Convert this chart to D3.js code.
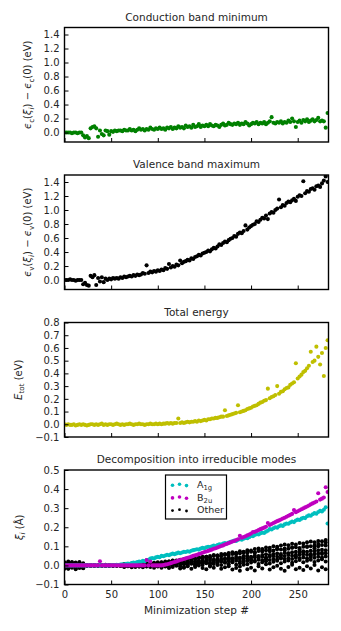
<!DOCTYPE html>
<html>
<head>
<meta charset="utf-8">
<script src="https://cdn.jsdelivr.net/npm/d3@7"></script>
<style>
  html, body { margin: 0; padding: 0; background: #fff; }
  svg { display: block; font-family: "DejaVu Sans", sans-serif; }
</style>
</head>
<body>
<div id="chart"></div>
<script>
// ── 1. Data ──────────────────────────────────────────────────
// main series are sampled every 2 minimization steps, "other" modes every 4
const STEP_MAIN  = 2;
const STEP_OTHER = 4;
const X_MAX      = 283;

const X_TICKS       = [0, 50, 100, 150, 200, 250];
const Y_TICKS_BAND  = [0, 0.2, 0.4, 0.6, 0.8, 1.0, 1.2, 1.4];
const Y_TICKS_ETOT  = [-0.1, 0, 0.1, 0.2, 0.3, 0.4, 0.5, 0.6, 0.7, 0.8];
const Y_TICKS_MODES = [-0.1, 0, 0.1, 0.2, 0.3, 0.4, 0.5];

const CBM = [
  0, 0, 0, 0, -0.01, 0, 0, -0.01, 0, 0,
  -0.04, -0.07, -0.05, -0.08, 0.06, 0.08, 0.09, 0.06, -0.06, 0.03,
  -0.02, -0.04, 0.03, 0.02, -0.03, 0.02, 0.01, 0.03, 0.02, 0.03,
  0.03, 0.02, 0.04, 0.03, 0.03, 0.05, 0.03, 0.04, 0.02, 0.04,
  0.06, 0.04, 0.05, 0.03, 0.05, 0.04, 0.07, 0.05, 0.04, 0.06,
  0.05, 0.07, 0.05, 0.06, 0.04, 0.07, 0.06, 0.08, 0.05, 0.07,
  0.06, 0.09, 0.07, 0.08, 0.06, 0.1, 0.08, 0.09, 0.07, 0.11,
  0.08, 0.09, 0.12, 0.08, 0.1, 0.09, 0.11, 0.09, 0.12, 0.1,
  0.09, 0.11, 0.1, 0.08, 0.11, 0.13, 0.1, 0.11, 0.14, 0.12,
  0.11, 0.13, 0.12, 0.14, 0.11, 0.13, 0.12, 0.15, 0.13, 0.1,
  0.12, 0.14, 0.13, 0.15, 0.12, 0.14, 0.13, 0.15, 0.12, 0.14,
  0.16, 0.22, 0.14, 0.13, 0.15, 0.14, 0.16, 0.13, 0.15, 0.14,
  0.17, 0.15, 0.2, 0.16, 0.08, 0.15, 0.17, 0.14, 0.18, 0.16,
  0.19, 0.15, 0.17, 0.19, 0.16, 0.18, 0.21, 0.16, 0.17, 0.16,
  0.07, 0.28
];

const VBM = [
  0, 0, 0, 0.01, 0, 0, -0.01, 0, 0, 0,
  -0.06, -0.04, -0.07, -0.08, 0.06, 0.04, 0.07, -0.07, 0.03, -0.02,
  0.04, -0.03, 0.02, 0, 0.02, 0.01, 0.03, 0.02, 0.03, 0.02,
  0.04, 0.03, 0.05, 0.04, 0.05, 0.06, 0.05, 0.07, 0.06, 0.08,
  0.07, 0.08, 0.1, 0.09, 0.21, 0.1, 0.12, 0.11, 0.13, 0.12,
  0.14, 0.13, 0.15, 0.14, 0.17, 0.16, 0.23, 0.18, 0.2, 0.19,
  0.22, 0.21, 0.28, 0.24, 0.26, 0.27, 0.29, 0.28, 0.31, 0.3,
  0.33, 0.34, 0.36, 0.35, 0.38, 0.39, 0.4, 0.42, 0.41, 0.44,
  0.46, 0.45, 0.48, 0.51, 0.5, 0.53, 0.55, 0.54, 0.57, 0.59,
  0.6, 0.63, 0.62, 0.66, 0.68, 0.67, 0.7, 0.78, 0.72, 0.75,
  0.77, 0.79, 0.8, 0.84, 0.83, 0.86, 0.89, 0.88, 0.92, 0.87,
  0.95, 0.97, 0.96, 1.0, 1.02, 1.15, 1.04, 1.07, 1.06, 1.1,
  1.12, 1.11, 1.14, 1.16, 1.13, 1.19, 1.21, 1.2, 1.41, 1.24,
  1.27, 1.26, 1.3, 1.31, 1.29, 1.34, 1.35, 1.33, 1.38, 1.42,
  1.48, 1.4
];

const ETOT = [
  0, -0.005, 0, -0.005, -0.005, 0, -0.01, -0.005, 0, -0.005,
  0, -0.005, -0.01, -0.005, 0, 0, -0.005, 0, -0.005, 0,
  0.005, -0.005, 0, -0.005, 0, 0, -0.005, 0, 0.005, 0,
  -0.005, 0, -0.005, 0, 0, 0.005, 0, -0.005, 0, 0,
  0.005, 0, 0, -0.005, 0, 0, 0.005, 0, 0, 0.005,
  0, 0.005, 0, 0.005, 0.005, 0.01, 0.005, 0.01, 0.005, 0.01,
  0.01, 0.045, 0.01, 0.015, 0.01, 0.015, 0.02, 0.015, 0.02, 0.02,
  0.025, 0.02, 0.03, 0.025, 0.03, 0.035, 0.03, 0.04, 0.04, 0.045,
  0.045, 0.05, 0.05, 0.055, 0.06, 0.06, 0.11, 0.065, 0.07, 0.075,
  0.08, 0.085, 0.09, 0.15, 0.095, 0.1, 0.105, 0.11, 0.12, 0.125,
  0.13, 0.14, 0.145, 0.15, 0.16, 0.17, 0.175, 0.185, 0.19, 0.28,
  0.205, 0.215, 0.22, 0.23, 0.3, 0.24, 0.255, 0.26, 0.275, 0.285,
  0.29, 0.31, 0.32, 0.33, 0.48, 0.36, 0.375, 0.39, 0.41, 0.42,
  0.44, 0.46, 0.57, 0.49, 0.5, 0.61, 0.53, 0.47, 0.56, 0.38,
  0.6, 0.66
];

const A1G = [
  0, 0, 0, 0, 0, 0, 0, 0, 0, 0,
  0, 0, 0, 0, 0, 0, 0, 0, 0, 0,
  0, 0, 0, 0, 0, 0, 0.002, 0, 0.003, 0.002,
  0.004, 0.006, 0.005, 0.008, 0.01, 0.009, 0.012, 0.015, 0.014, 0.018,
  0.02, 0.019, 0.024, 0.022, 0.028, 0.03, 0.036, 0.038, 0.036, 0.042,
  0.045, 0.043, 0.05, 0.048, 0.052, 0.056, 0.053, 0.058, 0.062, 0.059,
  0.063, 0.067, 0.064, 0.068, 0.071, 0.07, 0.074, 0.072, 0.077, 0.08,
  0.082, 0.085, 0.083, 0.088, 0.092, 0.09, 0.095, 0.098, 0.096, 0.1,
  0.104, 0.102, 0.107, 0.111, 0.109, 0.114, 0.117, 0.115, 0.12, 0.124,
  0.126, 0.13, 0.128, 0.134, 0.137, 0.135, 0.14, 0.144, 0.142, 0.148,
  0.155, 0.153, 0.16, 0.164, 0.162, 0.168, 0.172, 0.17, 0.177, 0.182,
  0.19, 0.188, 0.195, 0.2, 0.198, 0.205, 0.21, 0.207, 0.215, 0.22,
  0.218, 0.225, 0.23, 0.227, 0.235, 0.24, 0.238, 0.245, 0.25, 0.248,
  0.258, 0.262, 0.26, 0.268, 0.274, 0.271, 0.28, 0.286, 0.283, 0.292,
  0.305, 0.22
];

const B2U = [
  0, 0, 0, 0, 0, 0, 0, 0, 0, 0,
  0, 0, 0, 0, 0, 0, 0, 0, 0, 0.022,
  0, 0, 0, 0, 0, 0, 0, 0, 0, 0,
  0, 0, 0, 0, 0, 0, 0, 0, 0, 0,
  0, 0, 0, 0, 0.028, 0, 0.02, 0, 0, 0,
  0, 0, 0, 0.002, 0.004, 0.006, 0.009, 0.012, 0.015, 0.018,
  0.021, 0.025, 0.028, 0.031, 0.034, 0.037, 0.04, 0.043, 0.046, 0.05,
  0.053, 0.055, 0.06, 0.062, 0.066, 0.07, 0.073, 0.076, 0.08, 0.083,
  0.087, 0.09, 0.094, 0.098, 0.102, 0.105, 0.11, 0.113, 0.117, 0.121,
  0.125, 0.128, 0.133, 0.137, 0.155, 0.145, 0.149, 0.153, 0.158, 0.162,
  0.167, 0.175, 0.176, 0.18, 0.185, 0.19, 0.194, 0.198, 0.203, 0.222,
  0.212, 0.217, 0.222, 0.227, 0.232, 0.236, 0.241, 0.246, 0.25, 0.255,
  0.26, 0.265, 0.27, 0.29, 0.279, 0.284, 0.289, 0.294, 0.299, 0.304,
  0.309, 0.314, 0.32, 0.325, 0.33, 0.335, 0.378, 0.345, 0.35, 0.356,
  0.41, 0.385
];

// remaining irreducible modes, one row per mode
const OTHER = [
  [0.012, -0.008, 0.018, 0.004, -0.01, 0.006,
   0, 0.002, 0, -0.002, 0, 0.003, 0, 0, 0.002, 0,
   0.004, 0, 0.006, 0.003, 0.008, 0.005, 0.01, 0.006, 0.012,
   0.01, 0.015, 0.012, 0.02, 0.018, 0.026, 0.024, 0.032, 0.03, 0.037,
   0.035, 0.042, 0.046, 0.043, 0.05, 0.054, 0.051, 0.06, 0.058, 0.065,
   0.069, 0.066, 0.074, 0.072, 0.08, 0.078, 0.086, 0.089, 0.086, 0.094,
   0.092, 0.1, 0.098, 0.105, 0.109, 0.106, 0.113, 0.11, 0.118, 0.115,
   0.121, 0.125, 0.122, 0.128, 0.126, 0.133],
  [-0.012, 0.01, -0.004, 0.015, 0.002, -0.015,
   0, -0.002, 0.002, 0, 0, -0.002, 0.002, 0, 0, 0.002,
   0, 0.005, 0.002, 0.007, 0.004, 0.01, 0.007, 0.012, 0.009,
   0.012, 0.016, 0.014, 0.02, 0.024, 0.021, 0.028, 0.026, 0.032, 0.036,
   0.033, 0.04, 0.038, 0.045, 0.042, 0.049, 0.052, 0.048, 0.056, 0.054,
   0.06, 0.058, 0.064, 0.068, 0.065, 0.071, 0.069, 0.075, 0.073, 0.079,
   0.082, 0.078, 0.085, 0.083, 0.089, 0.087, 0.092, 0.095, 0.091, 0.098,
   0.096, 0.1, 0.104, 0.1, 0.107, 0.105],
  [0.006, -0.016, 0.01, -0.006, 0.014, -0.002,
   0.002, 0, -0.002, 0, 0.002, 0, -0.002, 0, 0.002, 0,
   -0.004, 0.002, -0.002, 0.004, 0, 0.006, 0.003, 0.002, 0.006,
   0.005, 0.009, 0.007, 0.012, 0.01, 0.015, 0.018, 0.014, 0.02, 0.023,
   0.02, 0.026, 0.024, 0.03, 0.033, 0.029, 0.035, 0.033, 0.038, 0.041,
   0.037, 0.044, 0.042, 0.047, 0.05, 0.046, 0.052, 0.05, 0.055, 0.058,
   0.054, 0.06, 0.063, 0.06, 0.066, 0.064, 0.069, 0.072, 0.068, 0.074,
   0.072, 0.077, 0.074, 0.079, 0.082, 0.08],
  [-0.018, 0.004, -0.008, 0.012, -0.014, 0.008,
   -0.002, 0, 0.002, -0.002, 0, 0, 0.002, -0.002, 0, 0,
   0.003, -0.003, 0.001, 0.004, -0.002, 0.002, 0.005, 0.001, 0.004,
   0.002, 0.006, 0.004, 0.009, 0.007, 0.011, 0.014, 0.01, 0.016, 0.014,
   0.019, 0.017, 0.022, 0.02, 0.025, 0.023, 0.028, 0.026, 0.03, 0.033,
   0.03, 0.035, 0.033, 0.038, 0.036, 0.04, 0.043, 0.039, 0.045, 0.043,
   0.047, 0.05, 0.046, 0.052, 0.05, 0.054, 0.051, 0.056, 0.054, 0.058,
   0.056, 0.06, 0.058, 0.062, 0.06, 0.064],
  [0.016, -0.006, 0.006, -0.016, 0.008, -0.01,
   0, 0.002, 0, 0, -0.002, 0.002, 0, 0, -0.002, 0.002,
   -0.006, 0, -0.004, 0.002, -0.006, 0, -0.003, 0.003, -0.002,
   0, 0.004, -0.002, 0.006, 0.002, 0.008, 0.004, 0.01, 0.006, 0.012,
   0.008, 0.014, 0.011, 0.016, 0.012, 0.018, 0.015, 0.02, 0.017, 0.022,
   0.019, 0.024, 0.021, 0.026, 0.023, 0.028, 0.025, 0.03, 0.027, 0.032,
   0.029, 0.034, 0.031, 0.036, 0.033, 0.038, 0.034, 0.04, 0.036, 0.042,
   0.038, 0.044, 0.04, 0.046, 0.042, 0.047],
  [-0.004, 0.014, -0.012, 0.002, 0.018, -0.006,
   0, 0, 0.002, 0, -0.002, 0, 0, 0.002, 0, -0.002,
   0.002, -0.005, 0.004, -0.003, 0.002, -0.006, 0.004, -0.004, 0,
   -0.004, 0.003, -0.006, 0.005, -0.002, 0.008, -0.004, 0.006, 0, 0.009,
   -0.002, 0.01, 0.002, 0.012, -0.001, 0.008, 0.013, 0.002, 0.014, 0.006,
   0.016, 0.004, 0.012, 0.018, 0.006, 0.015, 0.02, 0.008, 0.017, 0.022,
   0.01, 0.019, 0.024, 0.012, 0.02, 0.026, 0.014, 0.022, 0.028, 0.016,
   0.024, 0.03, 0.018, 0.026, 0.032, 0.02],
  [0.002, -0.018, 0.014, -0.01, 0.004, 0.012,
   0, -0.002, 0, 0.002, 0, -0.002, 0, 0, 0.002, -0.002,
   -0.008, -0.002, -0.01, 0, -0.006, -0.01, -0.004, -0.008, -0.012,
   -0.006, -0.012, -0.004, -0.014, -0.008, -0.002, -0.016, -0.01, -0.004, -0.018,
   -0.008, 0, -0.014, -0.02, -0.006, -0.012, 0.002, -0.018, -0.01, -0.004,
   -0.022, -0.014, -0.006, 0.004, -0.02, -0.012, -0.026, -0.004, -0.016, 0.006,
   -0.022, -0.01, -0.002, -0.018, -0.028, -0.008, 0.004, -0.02, -0.012, -0.024,
   -0.004, -0.016, 0.002, -0.026, -0.01, -0.02],
  [-0.008, 0.02, 0, -0.02, 0.01, -0.014,
   0.002, 0, -0.002, 0, 0.002, 0, -0.002, 0.002, 0, 0,
   0.008, -0.004, 0.01, -0.008, 0.006, 0.012, -0.006, 0.008, 0.014,
   0.016, 0.004, 0.02, -0.008, 0.026, 0.01, 0.03, -0.012, 0.022, 0.036,
   0.006, 0.04, 0.018, 0.046, 0.012, 0.03, 0.052, 0.024, 0.058, 0.03,
   0.036, 0.062, -0.028, 0.05, 0.07, 0.028, 0.066, 0.044, 0.078, 0.034,
   0.074, 0.056, 0.088, 0.04, 0.08, 0.062, 0.094, 0.048, 0.084, 0.07,
   0.1, 0.052, 0.09, 0.112, 0.066, 0.12]
];

// ── 2. Layout & style ────────────────────────────────────────
const W = 341, H = 631;
const LEFT = 64.5, RIGHT = 328.5, PH = 114.5;
const TOPS = [27.5, 175, 322.5, 470];
const TEXT = "#262626";

const GREEN = "#008000", YELLOW = "#bfbf00", CYAN = "#00bfbf", MAGENTA = "#bf00bf";
const R_MAIN = 2.05, R_OTHER = 2.0;

const PANELS = [
  {
    title: "Conduction band minimum",
    domain: [-0.135, 1.5], ticks: Y_TICKS_BAND,
    series: [{ values: CBM, step: STEP_MAIN, color: GREEN, r: R_MAIN }],
    label: [{ t: "ϵ", it: 1 }, { t: "c", sub: 1 }, { t: "(" }, { t: "ξ", it: 1 }, { t: "i", sub: 1, it: 1 },
            { t: ") − " }, { t: "ϵ", it: 1 }, { t: "c", sub: 1 }, { t: "(0) (eV)" }],
    labelX: 31
  },
  {
    title: "Valence band maximum",
    domain: [-0.135, 1.5], ticks: Y_TICKS_BAND,
    series: [{ values: VBM, step: STEP_MAIN, color: "#000", r: R_MAIN }],
    label: [{ t: "ϵ", it: 1 }, { t: "v", sub: 1 }, { t: "(" }, { t: "ξ", it: 1 }, { t: "i", sub: 1, it: 1 },
            { t: ") − " }, { t: "ϵ", it: 1 }, { t: "v", sub: 1 }, { t: "(0) (eV)" }],
    labelX: 31
  },
  {
    title: "Total energy",
    domain: [-0.1, 0.8], ticks: Y_TICKS_ETOT,
    series: [{ values: ETOT, step: STEP_MAIN, color: YELLOW, r: R_MAIN }],
    label: [{ t: "E", it: 1 }, { t: "tot", sub: 1 }, { t: " (eV)" }],
    labelX: 21.5
  },
  {
    title: "Decomposition into irreducible modes",
    domain: [-0.1, 0.5], ticks: Y_TICKS_MODES,
    series: OTHER.map(v => ({ values: v, step: STEP_OTHER, color: "#000", r: R_OTHER }))
      .concat([{ values: A1G, step: STEP_MAIN, color: CYAN, r: R_MAIN },
               { values: B2U, step: STEP_MAIN, color: MAGENTA, r: R_MAIN }]),
    label: [{ t: "ξ", it: 1 }, { t: "i", sub: 1, it: 1 }, { t: " (Å)" }],
    labelX: 22.5,
    xLabels: true
  }
];

const LEGEND = [
  { parts: [{ t: "A" }, { t: "1g", sub: 1 }], color: CYAN, r: 1.8 },
  { parts: [{ t: "B" }, { t: "2u", sub: 1 }], color: MAGENTA, r: 1.8 },
  { parts: [{ t: "Other" }], color: "#000", r: 1.4 }
];

// ── 3. Helpers ───────────────────────────────────────────────
function richText(text, parts, size) {
  let shift = 0;
  parts.forEach(p => {
    const ts = text.append("tspan").text(p.t);
    const target = p.sub ? size * 0.28 : 0;
    if (target !== shift) { ts.attr("dy", target - shift); shift = target; }
    if (p.sub) ts.attr("font-size", size * 0.72);
    if (p.it) ts.attr("font-style", "italic");
  });
}

// ── 4. Draw ──────────────────────────────────────────────────
const svg = d3.select("#chart").append("svg")
  .attr("width", W).attr("height", H)
  .attr("viewBox", `0 0 ${W} ${H}`);

const x = d3.scaleLinear().domain([0, X_MAX]).range([LEFT, RIGHT]);

PANELS.forEach((p, k) => {
  const top = TOPS[k];
  const y = d3.scaleLinear().domain(p.domain).range([top + PH, top]);
  const g = svg.append("g");

  g.append("clipPath").attr("id", `clip-${k}`)
    .append("rect")
    .attr("x", LEFT).attr("y", top)
    .attr("width", RIGHT - LEFT).attr("height", PH);

  const plot = g.append("g").attr("clip-path", `url(#clip-${k})`);
  p.series.forEach(s => {
    plot.append("g").selectAll("circle")
      .data(s.values)
      .join("circle")
      .attr("cx", (v, i) => x(i * s.step))
      .attr("cy", v => y(v))
      .attr("r", s.r)
      .attr("fill", s.color);
  });

  // axes, ticks pointing inward
  const yAxis = g.append("g")
    .attr("transform", `translate(${LEFT},0)`)
    .call(d3.axisLeft(y).tickValues(p.ticks).tickSize(-4).tickPadding(5)
      .tickFormat(d3.format(".1f")));
  const xAxis = g.append("g")
    .attr("transform", `translate(0,${top + PH})`)
    .call(d3.axisBottom(x).tickValues(X_TICKS).tickSize(-4).tickPadding(6.5)
      .tickFormat(p.xLabels ? d3.format("d") : () => ""));

  [yAxis, xAxis].forEach(ax => {
    ax.select(".domain").remove();
    ax.selectAll("line").attr("stroke", "#000").attr("stroke-width", 1);
    ax.selectAll("text").attr("fill", TEXT).attr("font-size", 10)
      .attr("font-family", "'DejaVu Sans', sans-serif");
  });

  // frame
  g.append("rect")
    .attr("x", LEFT).attr("y", top)
    .attr("width", RIGHT - LEFT).attr("height", PH)
    .attr("fill", "none").attr("stroke", "#000").attr("stroke-width", 1.4);

  // title
  g.append("text")
    .attr("x", (LEFT + RIGHT) / 2).attr("y", top - 7)
    .attr("text-anchor", "middle").attr("fill", TEXT)
    .attr("font-size", 10.5)
    .text(p.title);

  // y label
  const yl = g.append("text")
    .attr("transform", `translate(${p.labelX},${top + PH / 2}) rotate(-90)`)
    .attr("text-anchor", "middle").attr("fill", TEXT)
    .attr("font-size", 10);
  richText(yl, p.label, 10);

  if (p.xLabels) {
    g.append("text")
      .attr("x", (LEFT + RIGHT) / 2).attr("y", top + PH + 29.5)
      .attr("text-anchor", "middle").attr("fill", TEXT)
      .attr("font-size", 10.5)
      .text("Minimization step #");
  }
});

// ── 5. Legend (bottom panel) ─────────────────────────────────
const lg = svg.append("g");
lg.append("rect")
  .attr("x", 165.5).attr("y", 475).attr("width", 61).attr("height", 44)
  .attr("fill", "#fff").attr("stroke", "#000").attr("stroke-width", 1.2);

// classic matplotlib scatter legend: three markers with small vertical offsets
const MARK_X  = [172.5, 179.5, 186.5];
const MARK_DY = [0.9, 0, 1.3];

LEGEND.forEach((e, i) => {
  const cy = 484.3 + i * 12.7;
  MARK_X.forEach((mx, j) => {
    lg.append("circle")
      .attr("cx", mx).attr("cy", cy + MARK_DY[j])
      .attr("r", e.r).attr("fill", e.color);
  });
  const t = lg.append("text")
    .attr("x", 197).attr("y", cy + 3.5)
    .attr("fill", TEXT).attr("font-size", 9.5);
  richText(t, e.parts, 9.5);
});
</script>
</body>
</html>
